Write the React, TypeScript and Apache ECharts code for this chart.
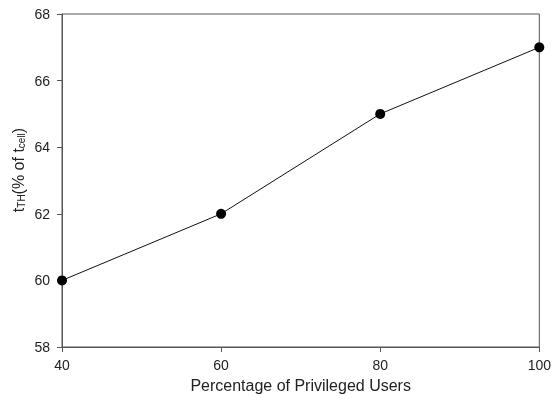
import React, { useEffect, useRef } from "react";
import * as echarts from "echarts";

const xValues = [40, 60, 80, 100];
const yValues = [60, 62, 65, 67];
const xTitle = "Percentage of Privileged Users";
const yTitleRich = "{m|t}{s|TH}{m|(% of t}{s|cell}{m|)}";

export default function App() {
  const ref = useRef<HTMLDivElement>(null);
  useEffect(() => {
    if (!ref.current) return;
    const chart = echarts.init(ref.current, null, { renderer: "svg" });
    const axisColor = "#555";
    const font = "'Liberation Sans', Arial, sans-serif";
    chart.setOption({
      animation: false,
      grid: { left: 62, right: 11, top: 14, bottom: 47, show: true, borderColor: axisColor, borderWidth: 1 },
      xAxis: {
        type: "value",
        min: 40,
        max: 100,
        interval: 20,
        name: xTitle,
        nameLocation: "middle",
        nameGap: 30,
        nameTextStyle: { fontFamily: font, fontSize: 16, color: "#222" },
        axisLine: { lineStyle: { color: axisColor, width: 1 } },
        axisTick: { show: true, length: 5, lineStyle: { color: axisColor } },
        axisLabel: { fontFamily: font, fontSize: 14, color: "#222", margin: 11 },
        splitLine: { show: false },
      },
      yAxis: {
        type: "value",
        min: 58,
        max: 68,
        interval: 2,
        axisLine: { show: true, lineStyle: { color: axisColor, width: 1 } },
        axisTick: { show: true, length: 5, lineStyle: { color: axisColor } },
        axisLabel: { fontFamily: font, fontSize: 14, color: "#222", margin: 12 },
        splitLine: { show: false },
      },
      graphic: [
        {
          type: "text",
          x: 17,
          y: 170,
          rotation: Math.PI / 2,
          style: {
            text: yTitleRich,
            align: "center",
            verticalAlign: "middle",
            fill: "#222",
            fontFamily: font,
            rich: {
              m: { fontFamily: font, fontSize: 16, fill: "#222", lineHeight: 18, verticalAlign: "bottom" },
              s: { fontFamily: font, fontSize: 10, fill: "#222", lineHeight: 18, verticalAlign: "bottom", padding: [6, 0, 0, 0] },
            },
          },
        },
      ],
      series: [
        {
          type: "line",
          data: xValues.map((x, i) => [x, yValues[i]]),
          symbol: "circle",
          symbolSize: 10,
          lineStyle: { color: "#111", width: 1 },
          itemStyle: { color: "#000" },
        },
      ],
    });
    return () => chart.dispose();
  }, []);
  return <div ref={ref} style={{ position: "fixed", left: 0, top: 0, width: 554, height: 398 }} />;
}
